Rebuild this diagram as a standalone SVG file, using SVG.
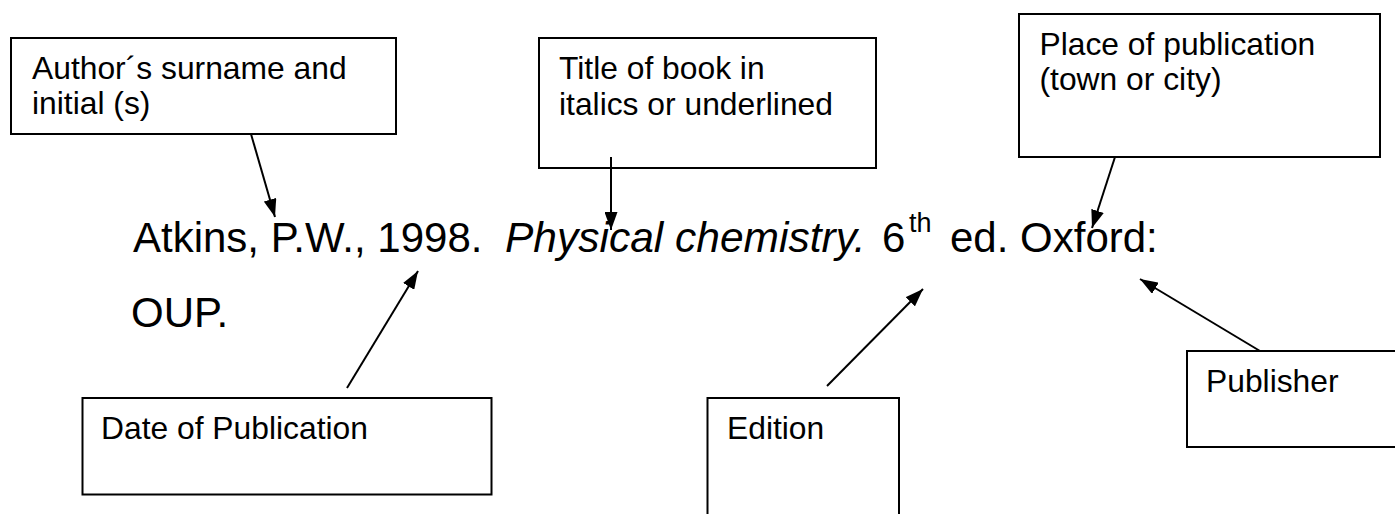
<svg xmlns="http://www.w3.org/2000/svg" width="1395" height="514" viewBox="0 0 1395 514">
<defs>
<style>
.box{fill:#fff;stroke:#000;stroke-width:2}
.lbl{font-family:"Liberation Sans",Arial,sans-serif;font-size:31.8px;fill:#000}
.main{font-family:"Liberation Sans",Arial,sans-serif;font-size:42px;fill:#000}
.conn{stroke:#000;stroke-width:2;fill:none;marker-end:url(#ah)}
</style>
<marker id="ah" viewBox="0 0 18 13" refX="18" refY="6.5" markerWidth="18" markerHeight="13" markerUnits="userSpaceOnUse" orient="auto">
<path d="M0,0 L18,6.5 L0,13 z" fill="#000"/>
</marker>
</defs>
<rect width="1395" height="514" fill="#fff"/>

<g id="citation">
<text class="main" y="252"><tspan x="133">Atkins, P.W., 1998.</tspan><tspan x="505" font-style="italic" font-size="42.5">Physical chemistry.</tspan><tspan x="882">6</tspan><tspan x="909" y="232" font-size="27">th</tspan><tspan x="950" y="252">ed. Oxford:</tspan></text>
<text class="main" x="131" y="327">OUP.</text>
</g>

<g id="node-author">
<rect class="box" x="11" y="38" width="385" height="96"/>
<text class="lbl" x="32" y="79">Author´s surname and</text>
<text class="lbl" x="32" y="113.5">initial (s)</text>
</g>

<g id="node-title">
<rect class="box" x="539" y="38" width="337" height="130"/>
<text class="lbl" x="559" y="79">Title of book in</text>
<text class="lbl" x="559" y="114.5">italics or underlined</text>
</g>

<g id="node-place">
<rect class="box" x="1019" y="14" width="361" height="143"/>
<text class="lbl" x="1039.5" y="54.5">Place of publication</text>
<text class="lbl" x="1039.5" y="89.5">(town or city)</text>
</g>

<g id="node-date">
<rect class="box" x="82.5" y="398" width="409" height="96.5"/>
<text class="lbl" x="101" y="439">Date of Publication</text>
</g>

<g id="node-edition">
<rect class="box" x="707.5" y="398" width="191.5" height="140"/>
<text class="lbl" x="727" y="439">Edition</text>
</g>

<g id="node-publisher">
<rect class="box" x="1187" y="351" width="220" height="96"/>
<text class="lbl" x="1206" y="392">Publisher</text>
</g>

<g id="connectors">
<line class="conn" x1="251" y1="134" x2="275" y2="217"/>
<line class="conn" x1="611" y1="157" x2="611" y2="230"/>
<line class="conn" x1="1115" y1="157" x2="1092" y2="228"/>
<line class="conn" x1="347" y1="388" x2="418" y2="271"/>
<line class="conn" x1="827" y1="386" x2="923" y2="289"/>
<line class="conn" x1="1260" y1="351" x2="1140" y2="279"/>
</g>
</svg>
